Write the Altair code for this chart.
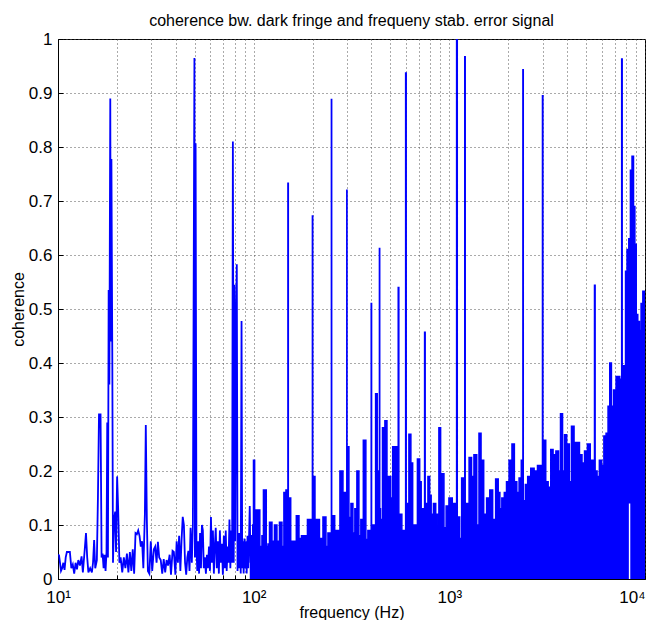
import altair as alt
import pandas as pd

TITLE = "coherence bw. dark fringe and frequeny stab. error signal"
X_TITLE = "frequency (Hz)"
Y_TITLE = "coherence"

X_TICKS = [10, 20, 30, 40, 50, 60, 70, 80, 90,
           100, 200, 300, 400, 500, 600, 700, 800, 900,
           1000, 2000, 3000, 4000, 5000, 6000, 7000, 8000, 9000, 10000]
Y_TICKS = [0, 0.1, 0.2, 0.3, 0.4, 0.5, 0.6, 0.7, 0.8, 0.9, 1]

# low-frequency part (10 Hz .. ~96 Hz), drawn as a line
low_freq = [
    10.0, 10.12, 10.24, 10.36, 10.5, 10.65, 10.8, 10.95, 11.1, 11.3,
    11.5, 11.7, 11.9, 12.1, 12.3, 12.5, 12.7, 12.95, 13.2, 13.4,
    13.7, 13.9, 14.1, 14.3, 14.6, 14.9, 15.1, 15.3, 15.5, 15.8,
    16.0, 16.2, 16.5, 16.7, 16.9, 17.1, 17.3, 17.5, 17.7, 17.85,
    18.0, 18.15, 18.3, 18.5, 18.6, 18.75, 18.95, 19.1, 19.35, 19.6,
    19.8, 20.05, 20.3, 20.6, 20.9, 21.3, 21.7, 22.1, 22.5, 22.9,
    23.3, 23.7, 24.1, 24.5, 24.9, 25.3, 25.7, 26.1, 26.5, 26.9,
    27.3, 27.8, 28.1, 28.45, 28.8, 29.3, 29.8, 30.3, 30.9, 31.4,
    31.9, 32.4, 32.9, 33.5, 34.1, 34.7, 35.3, 35.9, 36.5, 37.2,
    37.8, 38.5, 39.1, 39.8, 40.4, 41.0, 41.6, 42.2, 42.8, 43.4,
    44.0, 44.6, 45.2, 45.8, 46.4, 47.0, 47.6, 48.3, 48.9, 49.3,
    49.8, 50.1, 50.5, 51.0, 51.5, 52.0, 52.6, 53.2, 53.8, 54.4,
    55.0, 55.6, 56.3, 57.0, 57.7, 58.4, 59.1, 59.8, 60.5, 61.2,
    61.9, 62.6, 63.3, 64.0, 64.8, 65.6, 66.4, 67.2, 68.0, 68.8,
    69.6, 70.4, 71.2, 72.0, 72.8, 73.6, 74.4, 75.2, 76.0, 76.8,
    77.6, 78.3, 79.1, 79.7, 80.5, 81.3, 82.0, 82.7, 83.5, 84.3,
    85.1, 85.9, 86.7, 87.4, 88.1, 88.9, 89.7, 90.5, 91.3, 92.1,
    93.0, 93.8, 94.6, 95.5, 96.3,
]
low_coh = [
    0.045, 0.044, 0.03, 0.015, 0.02, 0.03, 0.017, 0.04, 0.05, 0.05,
    0.05, 0.02, 0.027, 0.01, 0.03, 0.018, 0.035, 0.025, 0.042, 0.012,
    0.055, 0.085, 0.04, 0.012, 0.02, 0.012, 0.03, 0.072, 0.02, 0.035,
    0.152, 0.305, 0.305, 0.04, 0.047, 0.02, 0.045, 0.015, 0.05, 0.29,
    0.04, 0.535, 0.36, 0.89, 0.44, 0.778, 0.40, 0.03, 0.11, 0.125,
    0.05, 0.19, 0.13, 0.03, 0.04, 0.012, 0.04, 0.02, 0.047, 0.012,
    0.05, 0.015, 0.055, 0.01, 0.085, 0.083, 0.09, 0.08, 0.06, 0.07,
    0.02, 0.12, 0.285, 0.11, 0.015, 0.01, 0.07, 0.015, 0.055, 0.06,
    0.03, 0.069, 0.04, 0.035, 0.01, 0.037, 0.012, 0.035, 0.025, 0.045,
    0.008, 0.052, 0.05, 0.008, 0.07, 0.03, 0.08, 0.015, 0.072, 0.115,
    0.1, 0.03, 0.008, 0.04, 0.052, 0.015, 0.095, 0.03, 0.1, 0.485,
    0.965, 0.04, 0.807, 0.06, 0.015, 0.07, 0.01, 0.085, 0.02, 0.1,
    0.09, 0.02, 0.04, 0.01, 0.045, 0.02, 0.06, 0.015, 0.115, 0.03,
    0.09, 0.01, 0.06, 0.095, 0.02, 0.07, 0.01, 0.09, 0.03, 0.065,
    0.008, 0.08, 0.02, 0.09, 0.015, 0.06, 0.03, 0.11, 0.02, 0.09,
    0.03, 0.81, 0.03, 0.545, 0.07, 0.49, 0.583, 0.015, 0.085, 0.02,
    0.085, 0.01, 0.478, 0.02, 0.07, 0.01, 0.075, 0.02, 0.07, 0.01,
    0.08, 0.02, 0.07, 0.135, 0.03,
]

# dense part (~95 Hz .. 10 kHz): upper envelope of the densely oscillating trace
env_freq = [
    95.5, 98.3, 99.6, 100.0, 100.8, 101.5, 104.0, 106.0, 109.0, 111.5,
    112.9, 115.0, 117.0, 119.8, 121.2, 122.6, 125.5, 130.0, 133.0, 138.0,
    141.0, 144.5, 148.0, 149.3, 150.0, 150.7, 152.8, 156.5, 162.0, 168.4,
    172.5, 178.6, 185.0, 191.7, 199.2, 200.0, 200.8, 203.7, 207.8, 213.0,
    220.8, 231.4, 236.8, 242.5, 249.2, 250.0, 250.8, 257.0, 262.0, 271.0,
    281.0, 291.0, 298.8, 299.6, 300.4, 303.0, 310.5, 318.0, 325.0, 333.0,
    341.0, 349.0, 357.0, 370.0, 379.0, 388.0, 398.0, 399.5, 401.5, 410.0,
    416.0, 424.0, 432.0, 438.5, 440.0, 441.5, 448.0, 463.0, 474.0, 486.0,
    497.0, 506.0, 521.0, 536.0, 546.0, 550.0, 554.0, 566.0, 578.0, 591.0,
    596.0, 600.0, 604.0, 614.0, 629.0, 643.0, 656.0, 675.0, 699.0, 712.0,
    724.0, 745.0, 750.0, 755.0, 768.0, 787.0, 800.0, 815.0, 844.0, 860.0,
    874.0, 895.0, 910.0, 927.0, 950.0, 976.0, 1015.0, 1056.0, 1085.0, 1094.0,
    1102.0, 1116.0, 1142.0, 1170.0, 1196.0, 1202.0, 1209.0, 1242.0, 1282.0, 1316.0,
    1356.0, 1405.0, 1430.0, 1475.0, 1522.0, 1580.0, 1640.0, 1690.0, 1760.0, 1795.0,
    1830.0, 1880.0, 1940.0, 1980.0, 2060.0, 2120.0, 2180.0, 2245.0, 2300.0, 2365.0,
    2372.0, 2382.0, 2392.0, 2420.0, 2475.0, 2555.0, 2660.0, 2765.0, 2880.0, 2985.0,
    3000.0, 3015.0, 3080.0, 3140.0, 3260.0, 3340.0, 3440.0, 3570.0, 3660.0, 3740.0,
    3840.0, 3920.0, 4040.0, 4170.0, 4250.0, 4430.0, 4560.0, 4690.0, 4840.0, 4980.0,
    5180.0, 5320.0, 5500.0, 5540.0, 5580.0, 5620.0, 5760.0, 5930.0, 6090.0, 6240.0,
    6410.0, 6540.0, 6670.0, 6800.0, 7020.0, 7210.0, 7355.0, 7500.0, 7580.0, 7620.0,
    7670.0, 7730.0, 7900.0, 8010.0, 8180.0, 8350.0, 8500.0, 8670.0, 8800.0, 8950.0,
    9090.0, 9280.0, 9460.0, 9640.0, 9860.0, 10000.0,
]
env_coh = [
    0.07, 0.08, 0.10, 0.22, 0.22, 0.06, 0.128, 0.128, 0.06, 0.08,
    0.165, 0.165, 0.06, 0.065, 0.105, 0.105, 0.07, 0.10, 0.07, 0.105,
    0.06, 0.16, 0.165, 0.16, 0.733, 0.15, 0.15, 0.07, 0.07, 0.117,
    0.075, 0.08, 0.08, 0.11, 0.11, 0.672, 0.19, 0.19, 0.11, 0.11,
    0.075, 0.115, 0.06, 0.085, 0.08, 0.888, 0.07, 0.117, 0.09, 0.09,
    0.20, 0.16, 0.16, 0.72, 0.245, 0.245, 0.114, 0.14, 0.085, 0.13,
    0.20, 0.08, 0.11, 0.257, 0.073, 0.09, 0.09, 0.51, 0.10, 0.10,
    0.10, 0.343, 0.20, 0.20, 0.612, 0.13, 0.11, 0.28, 0.293, 0.19,
    0.19, 0.15, 0.245, 0.245, 0.24, 0.54, 0.12, 0.12, 0.09, 0.09,
    0.09, 0.937, 0.14, 0.14, 0.268, 0.215, 0.10, 0.10, 0.222, 0.18,
    0.13, 0.13, 0.457, 0.14, 0.14, 0.19, 0.155, 0.12, 0.14, 0.10,
    0.12, 0.28, 0.135, 0.195, 0.095, 0.135, 0.15, 0.14, 0.12, 1.0,
    0.115, 0.115, 0.075, 0.187, 0.187, 0.967, 0.10, 0.14, 0.225, 0.19,
    0.23, 0.10, 0.27, 0.22, 0.12, 0.15, 0.165, 0.11, 0.185, 0.16,
    0.13, 0.15, 0.16, 0.18, 0.22, 0.25, 0.18, 0.16, 0.187, 0.22,
    0.22, 0.943, 0.145, 0.145, 0.175, 0.19, 0.205, 0.2, 0.21, 0.21,
    0.895, 0.257, 0.257, 0.18, 0.17, 0.24, 0.23, 0.237, 0.2, 0.306,
    0.2, 0.267, 0.25, 0.18, 0.283, 0.253, 0.253, 0.23, 0.215, 0.237,
    0.25, 0.22, 0.22, 0.544, 0.2, 0.2, 0.19, 0.22, 0.21, 0.265,
    0.27, 0.32, 0.40, 0.32, 0.35, 0.375, 0.375, 0.37, 0.37, 0.963,
    0.395, 0.395, 0.35, 0.57, 0.61, 0.63, 0.757, 0.783, 0.69, 0.62,
    0.49, 0.477, 0.46, 0.51, 0.533, 0.533,
]

# narrow dip of the dense trace near 8.4 kHz that leaves white at the bottom
gap_freq = [8200.0, 8340.0, 8480.0]
gap_coh = [0.0, 0.14, 0.0]

FONT = "Liberation Sans"
BLUE = "#0000ff"

low_df = pd.DataFrame({"f": low_freq, "c": low_coh})
env_df = pd.DataFrame({"f": env_freq, "c": env_coh})
gap_df = pd.DataFrame({"f": gap_freq, "c": gap_coh})

xscale = alt.Scale(type="log", domain=[10, 10000], nice=False)
yscale = alt.Scale(domain=[0, 1], nice=False, zero=True)

xaxis = alt.Axis(
    values=X_TICKS,
    labelExpr="datum.value == 10 ? '10\u00b9' : datum.value == 100 ? '10\u00b2' : "
              "datum.value == 1000 ? '10\u00b3' : datum.value == 10000 ? '10\u2074' : ''",
    labelAlign={"condition": {"test": "datum.value >= 10000", "value": "right"},
                "value": "center"},
    title=X_TITLE,
    grid=True, gridDash=[1, 3], gridColor="#555555", gridWidth=1,
    ticks=True, tickSize={"expr": "-4"}, tickColor="black", tickWidth=1,
    domainColor="black", domainWidth=1,
    labelFont=FONT, labelFontSize=17, labelColor="black", labelPadding=14,
    labelOverlap=False, labelFlush=False,
    titleFont=FONT, titleFontSize=16, titleFontWeight="normal", titleColor="black",
    titleBaseline="alphabetic", titleY=38,
)
yaxis = alt.Axis(
    values=Y_TICKS, format=".1~f",
    title=Y_TITLE,
    grid=True, gridDash=[1, 3], gridColor="#555555", gridWidth=1,
    ticks=True, tickSize={"expr": "-5"}, tickColor="black", tickWidth=1,
    domainColor="black", domainWidth=1,
    labelFont=FONT, labelFontSize=17, labelColor="black", labelPadding=11,
    labelOverlap=False, labelFlush=False,
    titleFont=FONT, titleFontSize=16, titleFontWeight="normal", titleColor="black",
    titlePadding=2,
)

x_enc = alt.X("f:Q", scale=xscale, axis=xaxis)
y_enc = alt.Y("c:Q", scale=yscale, axis=yaxis, stack=None)

low_line = alt.Chart(low_df).mark_line(
    color=BLUE, strokeWidth=1.8, clip=True
).encode(x=x_enc, y=y_enc)

env_area = alt.Chart(env_df).mark_area(
    fill=BLUE, fillOpacity=1, interpolate="step", clip=True
).encode(x=x_enc, y=y_enc, y2=alt.datum(0))

env_line = alt.Chart(env_df).mark_line(
    color=BLUE, interpolate="step", strokeWidth=1.5, clip=True
).encode(x=x_enc, y=y_enc)

gap_area = alt.Chart(gap_df).mark_area(
    fill="white", fillOpacity=1, interpolate="step", clip=True
).encode(x=x_enc, y=y_enc, y2=alt.datum(0))

chart = alt.layer(low_line, env_area, env_line, gap_area).properties(
    width=587,
    height=540,
    autosize=alt.AutoSizeParams(type="none"),
    padding={"left": 50, "top": 31, "right": 5, "bottom": 41},
    title=alt.TitleParams(
        TITLE, font=FONT, fontSize=16, fontWeight="normal", color="black",
        anchor="middle", offset=1,
    ),
    background="white",
).configure_view(
    stroke="black", strokeWidth=1
)

chart.save("out.html", embed_options={"renderer": "svg", "actions": False})
